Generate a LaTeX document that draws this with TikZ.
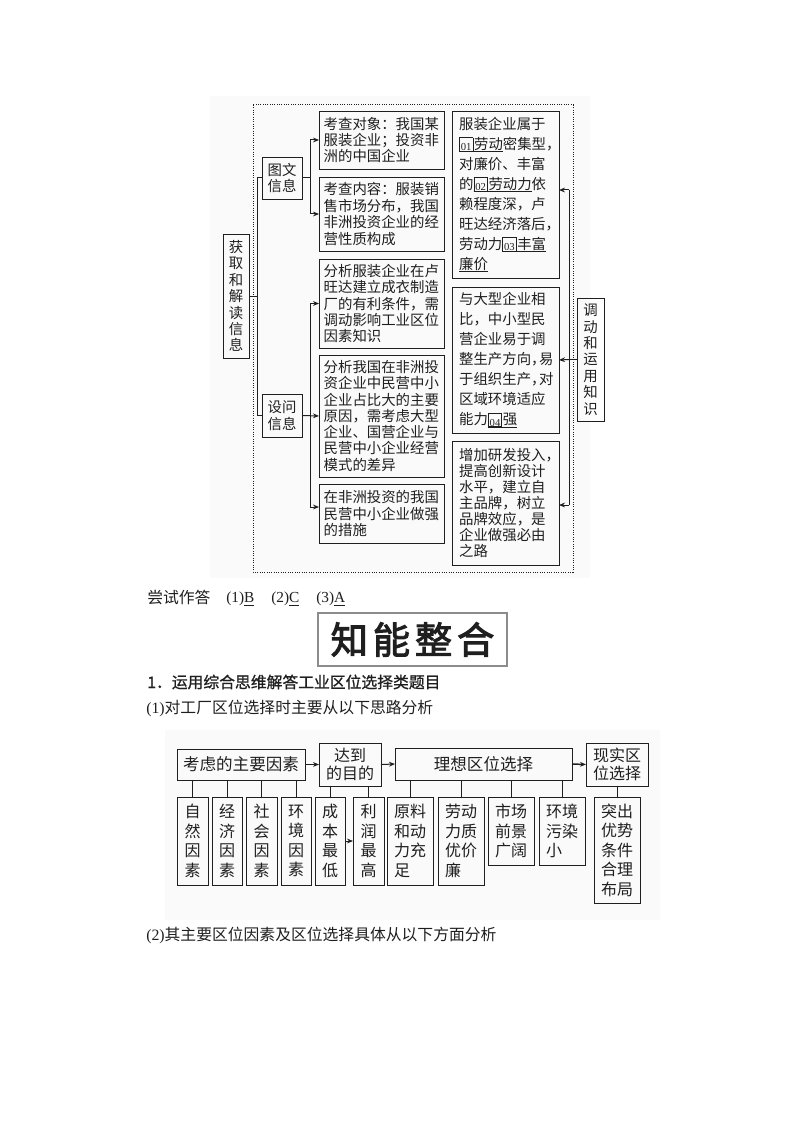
\documentclass[tikz,border=0pt]{standalone}
\usepackage{fontspec}
\setmainfont{Noto Sans CJK SC}
\newfontfamily\lat{Liberation Serif}
\newfontfamily\fakeb[FakeBold=2.6]{Noto Sans CJK SC}
\newfontfamily\fakebl[FakeBold=1]{Noto Sans CJK SC}
\usetikzlibrary{arrows.meta,calc}
\definecolor{ink}{gray}{0.12}
\definecolor{paperoff}{gray}{0.982}
\newcommand\ulx[1]{\leavevmode\setbox0\hbox{#1}\rlap{\rule[-2pt]{\wd0}{0.5pt}}\box0}
\newcommand\nb[1]{\raisebox{-1pt}[0pt][0pt]{\fboxsep=0pt\fboxrule=.5pt\fbox{\makebox[9.6pt][c]{\rule{0pt}{9.5pt}\lat\fontsize{8}{8}\selectfont #1}}}\hspace{.6pt}}
\newcommand\hc{\makebox[6pt][l]{，}}
\tikzset{
  x=0.75pt,y=-0.75pt,
  boxs/.style={draw=ink,line width=0.7pt,inner sep=0pt,outer sep=0pt,text=ink,align=left},
  fa/.style={font=\fontsize{10.8}{12.2}\selectfont},
  colL/.style={fa,text width=86.7pt},
  colR/.style={fa,text width=69.5pt,inner xsep=5.25pt},
  lbl/.style={font=\fontsize{10.8}{12.5}\selectfont},
  vert/.style={align=center,font=\fontsize{10.8}{12.3}\selectfont},
  big/.style={font=\fontsize{12}{14.6}\selectfont},
  two/.style={font=\fontsize{12}{13.7}\selectfont,align=center},
  link/.style={draw=ink,line width=0.75pt},
  arr/.style={link,-{Stealth[length=4.5pt,width=3.6pt]}},
  para/.style={anchor=west,inner sep=0pt,text=ink,font=\fontsize{11.85}{14}\selectfont},
}
\newcommand\bx[7][]{%
  \pgfmathsetmacro\cxx{(#3+#5)/2}\pgfmathsetmacro\cyy{(#4+#6)/2}%
  \pgfmathsetmacro\www{(#5-#3)*0.75}\pgfmathsetmacro\hhh{(#6-#4)*0.75}%
  \node[boxs,#1,minimum width=\www pt,minimum height=\hhh pt] (#2) at (\cxx,\cyy) {#7};}
\begin{document}
\begin{tikzpicture}
\useasboundingbox (0,0) rectangle (794,1123);
\fill[white] (0,0) rectangle (794,1123);
\fill[paperoff] (210,96) rectangle (590,578);
\fill[paperoff] (165,730) rectangle (660,920);
\draw[ink,line width=0.75pt,densely dotted] (253,105) rectangle (573,572);

% upper diagram
\bx[vert]{hq}{223}{234}{249}{358}{获\\取\\和\\解\\读\\信\\息}
\bx[lbl,align=center]{tw}{262}{157}{302}{199}{图文\\信息}
\bx[lbl,align=center]{sw}{262}{394}{302}{437}{设问\\信息}
\bx[colL]{a1}{319}{111}{444}{169}{考查对象：我国某\\服装企业；投资非\\洲的中国企业}
\bx[colL,font=\fontsize{10.8}{12.4}\selectfont]{a2}{319}{177}{444}{251}{考查内容：服装销\\售市场分布，我国\\非洲投资企业的经\\营性质构成}
\bx[colL]{a3}{319}{259}{444}{348}{分析服装企业在卢\\旺达建立成衣制造\\厂的有利条件，需\\调动影响工业区位\\因素知识}
\bx[colL]{a4}{319}{355}{444}{477}{分析我国在非洲投\\资企业中民营中小\\企业占比大的主要\\原因，需考虑大型\\企业、国营企业与\\民营中小企业经营\\模式的差异}
\bx[colL]{a5}{319}{484}{444}{543}{在非洲投资的我国\\民营中小企业做强\\的措施}
\bx[colR,font=\fontsize{10.8}{15}\selectfont]{r1}{452}{111}{559}{278}{服装企业属于\\\mbox{\ulx{\nb{01}劳动}密集型，}\\对廉价、丰富\\的\ulx{\nb{02}劳动力}依\\赖程度深，卢\\\mbox{旺达经济落后，}\\\mbox{劳动力\ulx{\nb{03}丰富}}\\\ulx{廉价}}
\bx[colR,font=\fontsize{10.8}{15}\selectfont]{r2}{452}{287}{559}{433}{与大型企业相\\比，中小型民\\营企业易于调\\\mbox{整生产方向\hc 易}\\\mbox{于组织生产\hc 对}\\区域环境适应\\能力\ulx{\nb{04}强}}
\bx[colR,font=\fontsize{10.8}{12.1}\selectfont]{r3}{452}{441}{559}{565}{\mbox{增加研发投入，}\\提高创新设计\\水平，建立自\\主品牌，树立\\品牌效应，是\\企业做强必由\\之路}
\bx[vert]{dd}{577}{298}{604}{421}{调\\动\\和\\运\\用\\知\\识}

\coordinate (j1) at (257,295);
\coordinate (j2) at (310,178);
\coordinate (j3) at (569,360);
\coordinate (y1) at (319,507);
\coordinate (y2) at (559,190);
\coordinate (y3) at (559,505);
\draw[link] (hq.east) -- (hq.east -| j1);
\draw[link] (tw.west) -- (tw.west -| j1) -- (sw.west -| j1) -- (sw.west);
\draw[link] (tw.east) -- (tw.east -| j2);
\draw[link] (a1.west -| j2) -- (a2.west -| j2);
\draw[arr] (a1.west -| j2) -- (a1.west);
\draw[arr] (a2.west -| j2) -- (a2.west);
\draw[link] (a3.west -| j2) -- (y1 -| j2);
\draw[arr] (sw.east) -- (a4.west);
\draw[arr] (a3.west -| j2) -- (a3.west);
\draw[arr] (y1 -| j2) -- (y1);
\draw[link] (dd.west) -- (dd.west -| j3);
\draw[link] (y2 -| j3) -- (y3 -| j3);
\draw[arr] (y2 -| j3) -- (y2);
\draw[arr] (dd.west -| j3) -- (r2.east);
\draw[arr] (y3 -| j3) -- (y3);

% middle text
\node[para] (t1) at (147,597) {尝试作答};
\node[para] (t2) at (226,599) {\lat\fontsize{11.5}{14}\selectfont (1)\ulx{B}};
\node[para] (t3) at (271,599) {\lat\fontsize{11.5}{14}\selectfont (2)\ulx{C}};
\node[para] (t4) at (316,599) {\lat\fontsize{11.5}{14}\selectfont (3)\ulx{A}};
\bx[draw=black!45,line width=1.1pt,align=center,font=\fontsize{28}{30}\fakeb]{zn}{318}{613}{507}{666}{知\hspace{3.6pt}能\hspace{3.6pt}整\hspace{3.6pt}合}
\node[para] (t5) at (147,682) {\fakebl 1．运用综合思维解答工业区位选择类题目};
\node[para] (t6) at (146,708) {{\lat (1)}对工厂区位选择时主要从以下思路分析};
\node[para] (t7) at (146,935) {{\lat (2)}其主要区位因素及区位选择具体从以下方面分析};

% lower diagram
\bx[font=\fontsize{12.4}{14}\selectfont]{k1}{177}{749}{305}{780}{考虑的主要因素}
\bx[two]{k2}{319}{743}{381}{786}{达到\\的目的}
\bx[font=\fontsize{12.4}{14}\selectfont]{k3}{395}{748}{572}{780}{理想区位选择}
\bx[two]{k4}{586}{743}{648}{786}{现实区\\位选择}
\bx[big]{b1}{177}{797}{208}{885}{自\\然\\因\\素}
\bx[big]{b2}{212}{797}{242}{885}{经\\济\\因\\素}
\bx[big]{b3}{246}{797}{277}{885}{社\\会\\因\\素}
\bx[big]{b4}{281}{797}{311}{885}{环\\境\\因\\素}
\bx[big]{b5}{315}{797}{345}{885}{成\\本\\最\\低}
\bx[big]{b6}{353}{797}{384}{885}{利\\润\\最\\高}
\bx[big]{b7}{387}{797}{433}{885}{原料\\和动\\力充\\足}
\bx[big]{b8}{438}{797}{484}{885}{劳动\\力质\\优价\\廉}
\bx[big]{b9}{488}{797}{534}{865}{市场\\前景\\广阔}
\bx[big]{b10}{539}{797}{585}{865}{环境\\污染\\小}
\bx[big]{b11}{594}{797}{640}{903}{突出\\优势\\条件\\合理\\布局}

\draw[arr] (k1.east) -- (k2.west);
\draw[arr] (k2.east) -- (k3.west);
\draw[arr,line width=1.1pt] (k3.east) -- (k4.west);
\draw[arr] (b5.east) -- (b6.west);
\foreach \b in {b1,b2,b3,b4} \draw[link] (\b.north) -- (\b.north |- k1.south);
\coordinate (c5) at (330,797);
\coordinate (c6) at (368,797);
\draw[link] (c5) -- (c5 |- k2.south);
\draw[link] (c6) -- (c6 |- k2.south);
\foreach \b in {b7,b8,b9,b10} \draw[link] (\b.north) -- (\b.north |- k3.south);
\draw[link] (b11.north) -- (b11.north |- k4.south);
\end{tikzpicture}
\end{document}
